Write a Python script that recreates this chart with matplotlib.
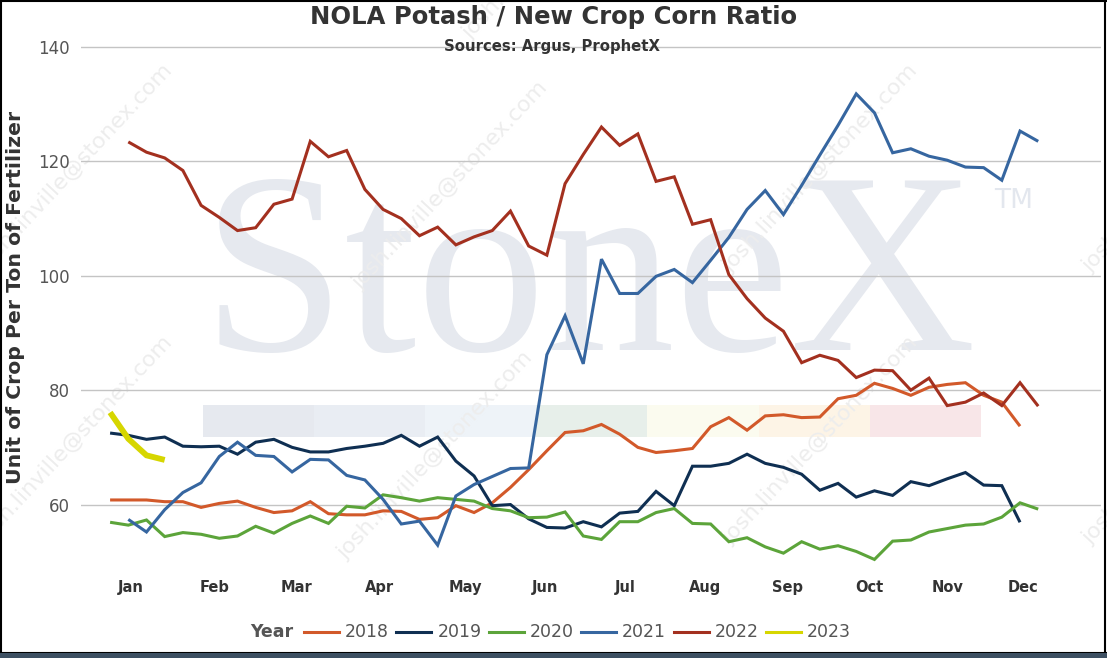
import numpy as np
import matplotlib
matplotlib.use("Agg")
import matplotlib.pyplot as plt
from matplotlib.lines import Line2D
from matplotlib.patches import Rectangle

# ---------------- data ----------------
years = ["2018", "2019", "2020", "2021", "2022", "2023"]
colors = ["#d2592a", "#0f2f52", "#5ca43a", "#3666a0", "#a3301f", "#d6d600"]
first_week = [0, 0, 0, 1, 1, 0]

v2018 = [60.8, 60.8, 60.8, 60.5, 60.5, 59.5, 60.2, 60.6, 59.5, 58.6,
         58.9, 60.5, 58.4, 58.2, 58.2, 58.9, 58.8, 57.4, 57.7, 59.8,
         58.6, 60.3, 63.0, 66.1, 69.4, 72.6, 72.9, 74.0, 72.3, 70.0,
         69.1, 69.4, 69.8, 73.6, 75.2, 73.0, 75.5, 75.7, 75.2, 75.3,
         78.5, 79.1, 81.2, 80.3, 79.1, 80.5, 81.0, 81.3, 79.1, 77.9, 73.7]
v2019 = [72.5, 72.1, 71.4, 71.8, 70.2, 70.1, 70.2, 68.8, 70.9, 71.4,
         70.0, 69.2, 69.2, 69.8, 70.2, 70.7, 72.1, 70.2, 71.8, 67.6,
         65.0, 59.8, 60.0, 57.5, 56.0, 55.9, 57.0, 56.1, 58.5, 58.8,
         62.3, 59.8, 66.7, 66.7, 67.2, 68.8, 67.2, 66.5, 65.3, 62.5,
         63.7, 61.3, 62.4, 61.6, 64.0, 63.3, 64.5, 65.6, 63.4, 63.3, 56.9]
v2020 = [56.9, 56.4, 57.3, 54.4, 55.1, 54.8, 54.1, 54.5, 56.2, 55.0,
         56.7, 58.0, 56.7, 59.7, 59.4, 61.7, 61.2, 60.6, 61.2, 60.9,
         60.6, 59.3, 58.9, 57.7, 57.8, 58.7, 54.5, 53.9, 57.0, 57.0,
         58.6, 59.3, 56.7, 56.6, 53.5, 54.2, 52.6, 51.5, 53.5, 52.2,
         52.8, 51.8, 50.4, 53.6, 53.8, 55.2, 55.8, 56.4, 56.6, 57.8,
         60.3, 59.2]
v2021 = [57.4, 55.2, 59.1, 62.1, 63.8, 68.4, 70.9, 68.6, 68.4, 65.7,
         67.9, 67.8, 65.1, 64.3, 60.9, 56.6, 57.1, 52.9, 61.5, 63.5,
         64.9, 66.3, 66.4, 86.2, 93.0, 84.6, 102.9, 96.9, 96.9, 99.9,
         101.1, 98.8, 102.7, 106.7, 111.6, 114.9, 110.7, 115.8, 121.1, 126.3,
         131.8, 128.5, 121.5, 122.2, 120.9, 120.2, 119.0, 118.9, 116.7, 125.3,
         123.5]
v2022 = [123.4, 121.6, 120.6, 118.4, 112.3, 110.2, 107.9, 108.4, 112.5, 113.4,
         123.5, 120.8, 121.9, 115.1, 111.6, 110.0, 107.0, 108.5, 105.4, 106.8,
         107.9, 111.3, 105.2, 103.6, 116.1, 121.2, 126.0, 122.8, 124.8, 116.5,
         117.3, 109.0, 109.8, 100.2, 96.0, 92.6, 90.3, 84.8, 86.1, 85.2,
         82.2, 83.5, 83.4, 80.0, 82.1, 77.3, 77.9, 79.5, 77.3, 81.3, 77.2]
v2023 = [76.1, 71.5, 68.6, 67.8]
series = [v2018, v2019, v2020, v2021, v2022, v2023]

months = ["Jan", "Feb", "Mar", "Apr", "May", "Jun",
          "Jul", "Aug", "Sep", "Oct", "Nov", "Dec"]
month_pos = [1.13, 5.73, 10.27, 14.83, 19.5, 23.9,
             28.3, 32.7, 37.23, 41.71, 46.0, 50.14]
yticks = [60, 80, 100, 120, 140]

# ---------------- figure ----------------
W, H = 1107, 658
fig = plt.figure(figsize=(W / 100, H / 100), dpi=100)
fig.patch.set_facecolor("white")


def fx(px):
    return px / W


def fy(py):
    return 1 - py / H


# watermark colour bar
bar_cols = ["#e6e9ef", "#e9edf3", "#eef3f8", "#e7efea", "#fbfbef", "#fdf4e6", "#f8e6e8"]
for i, c in enumerate(bar_cols):
    x0 = 203 + i * 111.1
    fig.patches.append(Rectangle((fx(x0), fy(437)), fx(111.1), 32 / H,
                                 transform=fig.transFigure, facecolor=c,
                                 edgecolor="none", zorder=-2))

# big StoneX watermark
fig.text(fx(202), fy(350), "StoneX", fontsize=186, family="Liberation Serif",
         color="#e6e9ef", ha="left", va="baseline", zorder=-2)
fig.text(fx(994), fy(208), "TM", fontsize=19, color="#e3e7ee",
         ha="left", va="baseline", zorder=-2)

# diagonal email watermark
for (sx, sy) in [(-15, 273), (-15, 545), (360, 290), (345, 560),
                 (730, 273), (730, 545), (1090, 273), (1090, 545), (470, 40)]:
    fig.text(fx(sx), fy(sy), "josh.linville@stonex.com", fontsize=16,
             color="#ededed", rotation=47, rotation_mode="anchor",
             ha="left", va="baseline", zorder=-1)

# axes
ax_bottom_px = 564.6
ax = fig.add_axes([fx(81), fy(ax_bottom_px), fx(1020), 520.5 / H])
ax.patch.set_alpha(0)
ax.set_xlim(-1.599, 54.45)
ax.set_ylim(49.5, 140.5)
for s in ax.spines.values():
    s.set_visible(False)
ax.set_yticks(yticks)
ax.set_yticklabels([str(t) for t in yticks], color="#555555", fontsize=12)
ax.set_xticks(month_pos)
ax.set_xticklabels(months, color="#333333", fontsize=10.5, fontweight="bold")
ax.tick_params(axis="y", length=0, pad=8)
ax.tick_params(axis="x", length=0, pad=11)
ax.yaxis.grid(True, color="#c4c4c4", linewidth=1.0)
ax.set_axisbelow(True)

for name, vals, col, w0 in zip(years, series, colors, first_week):
    wk = np.arange(w0, w0 + len(vals))
    lw = 4.2 if name == "2023" else 2.2
    ax.plot(wk, vals, color=col, linewidth=lw, solid_joinstyle="miter",
            solid_capstyle="butt", zorder=3)

# titles
fig.text(fx(554), fy(17), "NOLA Potash / New Crop Corn Ratio", ha="center",
         va="center", fontsize=17.5, fontweight="bold", color="#333333")
fig.text(fx(552), fy(47), "Sources: Argus, ProphetX", ha="center",
         va="center", fontsize=10.7, fontweight="bold", color="#333333")
fig.text(fx(16), fy(297), "Unit of Crop Per Ton of Fertilizer", rotation=90,
         ha="center", va="center", fontsize=14.7, fontweight="bold", color="#333333")

# legend
ly = fy(632)
fig.text(fx(250), ly, "Year", ha="left", va="center", fontsize=12.5,
         fontweight="bold", color="#555555")
for i, (name, col) in enumerate(zip(years, colors)):
    x0 = 304 + i * 92.4
    fig.lines.append(Line2D([fx(x0), fx(x0 + 35)], [ly, ly], color=col,
                            linewidth=2.2, transform=fig.transFigure))
    fig.text(fx(x0 + 41), ly, name, ha="left", va="center", fontsize=12.5,
             color="#555555")

# frame
fig.lines.append(Line2D([fx(0.5), fx(0.5)], [0, 1], color="black", lw=1.5,
                        transform=fig.transFigure))
fig.lines.append(Line2D([0, 1], [fy(0.5), fy(0.5)], color="black", lw=1.5,
                        transform=fig.transFigure))
fig.lines.append(Line2D([fx(1104.5), fx(1104.5)], [0, 1], color="black", lw=1.5,
                        transform=fig.transFigure))
fig.patches.append(Rectangle((0, 0), 1, 5 / H, transform=fig.transFigure,
                             facecolor="#3d5062", edgecolor="none", zorder=5))
fig.lines.append(Line2D([0, 1], [fy(653), fy(653)], color="black", lw=1.5,
                        transform=fig.transFigure))

fig.savefig("out.png", dpi=100, facecolor="white")
